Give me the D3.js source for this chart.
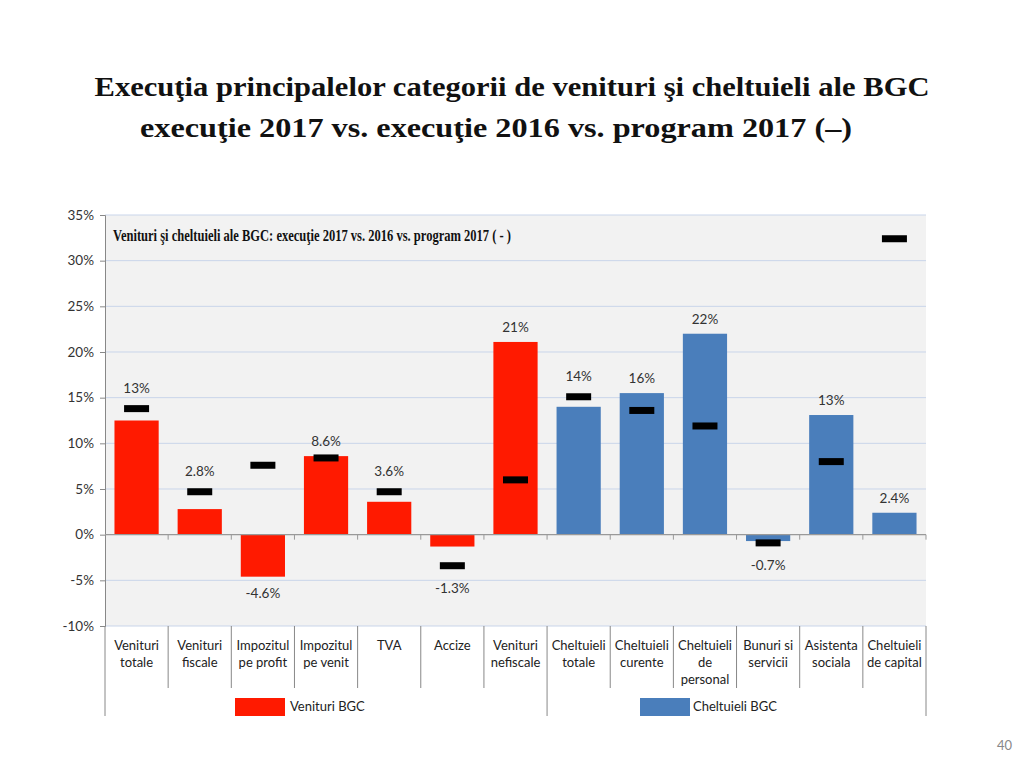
<!DOCTYPE html>
<html><head><meta charset="utf-8">
<script src="https://cdn.jsdelivr.net/npm/d3@7"></script>
<style>body{margin:0;background:#fff;}svg{display:block;}</style>
</head><body>
<svg id="c" width="1024" height="768"></svg>
<script>
const categories = [
  ["Venituri","totale"],["Venituri","fiscale"],["Impozitul","pe profit"],["Impozitul","pe venit"],
  ["TVA"],["Accize"],["Venituri","nefiscale"],["Cheltuieli","totale"],["Cheltuieli","curente"],
  ["Cheltuieli","de","personal"],["Bunuri si","servicii"],["Asistenta","sociala"],["Cheltuieli","de capital"]
];
const groups = ["V","V","V","V","V","V","V","C","C","C","C","C","C"];
const values = [12.5, 2.8, -4.6, 8.6, 3.6, -1.3, 21.1, 14.0, 15.5, 22.0, -0.7, 13.1, 2.4];
const valueLabels = ["13%","2.8%","-4.6%","8.6%","3.6%","-1.3%","21%","14%","16%","22%","-0.7%","13%","2.4%"];
const program = [13.8, 4.7, 7.6, 8.4, 4.7, -3.4, 6.0, 15.1, 13.6, 11.9, -0.9, 8.0, 32.4];
const yTicks = [-10,-5,0,5,10,15,20,25,30,35];
const groupNames = [{key:"V", name:"Venituri BGC", color:"#ff1a00"},{key:"C", name:"Cheltuieli BGC", color:"#4a7ebb"}];

const svg = d3.select("#c");
const L = 105, R = 926, T = 215, B = 626;
const x = d3.scaleBand().domain(d3.range(categories.length)).range([L, R]).paddingInner(0.3).paddingOuter(0.15);
const xb = d3.scaleLinear().domain([0, categories.length]).range([L, R]);
const y = d3.scaleLinear().domain([-10, 35]).range([B, T]);
const color = k => groupNames.find(g => g.key === k).color;
const sans = "Lato, 'Open Sans', sans-serif";
const serif = "'Liberation Serif', 'DejaVu Serif', serif";

// Titles
svg.append("text").attr("x", 512).attr("y", 96).attr("text-anchor","middle")
  .attr("font-family", serif).attr("font-weight","bold").attr("font-size", 27).attr("fill","#111")
  .attr("textLength", 835).attr("lengthAdjust","spacingAndGlyphs")
  .text("Execuţia principalelor categorii de venituri şi cheltuieli ale BGC");
svg.append("text").attr("x", 496).attr("y", 137).attr("text-anchor","middle")
  .attr("font-family", serif).attr("font-weight","bold").attr("font-size", 27).attr("fill","#111")
  .attr("textLength", 712).attr("lengthAdjust","spacingAndGlyphs")
  .text("execuţie 2017 vs. execuţie 2016 vs. program 2017 (–)");

// plot background
svg.append("rect").attr("x", L).attr("y", T).attr("width", R - L).attr("height", B - T).attr("fill", "#f2f2f2");

// gridlines
svg.append("g").selectAll("line").data(yTicks.filter(d => d !== 0)).join("line")
  .attr("x1", L).attr("x2", R).attr("y1", d => y(d)).attr("y2", d => y(d))
  .attr("stroke", "#c9d5ea").attr("stroke-width", 1);

// inner title
svg.append("text").attr("x", 113).attr("y", 241)
  .attr("font-family", serif).attr("font-weight","bold").attr("font-size", 16).attr("fill","#111")
  .attr("textLength", 398).attr("lengthAdjust","spacingAndGlyphs")
  .text("Venituri şi cheltuieli ale BGC: execuţie 2017 vs. 2016 vs. program 2017 ( - )");

// y axis
const yAxis = d3.axisLeft(y).tickValues(yTicks).tickFormat(d => d + "%").tickSize(5).tickPadding(6);
const ga = svg.append("g").attr("transform", `translate(${L},0)`).call(yAxis);
ga.select(".domain").attr("stroke", "#888");
ga.selectAll(".tick line").attr("stroke", "#888");
ga.selectAll("text").attr("font-family", sans).attr("font-size", 13.5).attr("fill", "#333");

// bars
svg.append("g").selectAll("rect").data(values).join("rect")
  .attr("x", (d,i) => x(i)).attr("width", x.bandwidth())
  .attr("y", d => y(Math.max(0,d))).attr("height", d => Math.abs(y(d) - y(0)))
  .attr("fill", (d,i) => color(groups[i]));

// zero axis
svg.append("line").attr("x1", L).attr("x2", R).attr("y1", y(0)).attr("y2", y(0)).attr("stroke", "#999").attr("stroke-width", 1.2);
svg.append("g").selectAll("line").data(d3.range(1, categories.length + 1)).join("line")
  .attr("x1", d => xb(d)).attr("x2", d => xb(d)).attr("y1", y(0)).attr("y2", y(0) + 5).attr("stroke", "#999");

// program markers
svg.append("g").selectAll("rect").data(program).join("rect")
  .attr("x", (d,i) => x(i) + x.bandwidth()/2 - 12.5).attr("width", 25)
  .attr("y", d => y(d) - 3.5).attr("height", 7).attr("fill", "#000");

// value labels
svg.append("g").selectAll("text").data(values).join("text")
  .attr("x", (d,i) => x(i) + x.bandwidth()/2)
  .attr("y", (d,i) => {
    const p = program[i];
    if (d >= 0) {
      if (p > d && p < 30) return y(p) - 21 + 5;
      return y(d) - 15 + 5;
    } else {
      if (p < d) return y(p) + 22 + 5;
      return y(d) + 16 + 5;
    }
  })
  .attr("text-anchor","middle").attr("font-family", sans).attr("font-size", 13.5).attr("fill", "#333")
  .text((d,i) => valueLabels[i]);

// category separators
svg.append("g").selectAll("line").data(d3.range(0, categories.length + 1)).join("line")
  .attr("x1", d => xb(d)).attr("x2", d => xb(d)).attr("y1", B)
  .attr("y2", d => (d === 0 || d === 7 || d === categories.length) ? 716 : 688)
  .attr("stroke", "#888");

// category labels
const cl = svg.append("g").selectAll("text").data(categories).join("text")
  .attr("text-anchor","middle").attr("font-family", sans).attr("font-size", 13).attr("fill", "#222");
cl.each(function(lines, i) {
  const t = d3.select(this);
  lines.forEach((ln, j) => {
    t.append("tspan").attr("x", xb(i + 0.5)).attr("y", 650 + j * 17).text(ln);
  });
});

// group legend swatches
const gl = [{g: groupNames[0], sx: 235, tx: 290}, {g: groupNames[1], sx: 640, tx: 693}];
gl.forEach(o => {
  svg.append("rect").attr("x", o.sx).attr("y", 698).attr("width", 50).attr("height", 18).attr("fill", o.g.color);
  svg.append("text").attr("x", o.tx).attr("y", 711).attr("font-family", sans).attr("font-size", 13).attr("fill", "#222").text(o.g.name);
});

// page number
svg.append("text").attr("x", 1012).attr("y", 750).attr("text-anchor","end")
  .attr("font-family", sans).attr("font-size", 13).attr("fill", "#888").text("40");
</script>
</body></html>
